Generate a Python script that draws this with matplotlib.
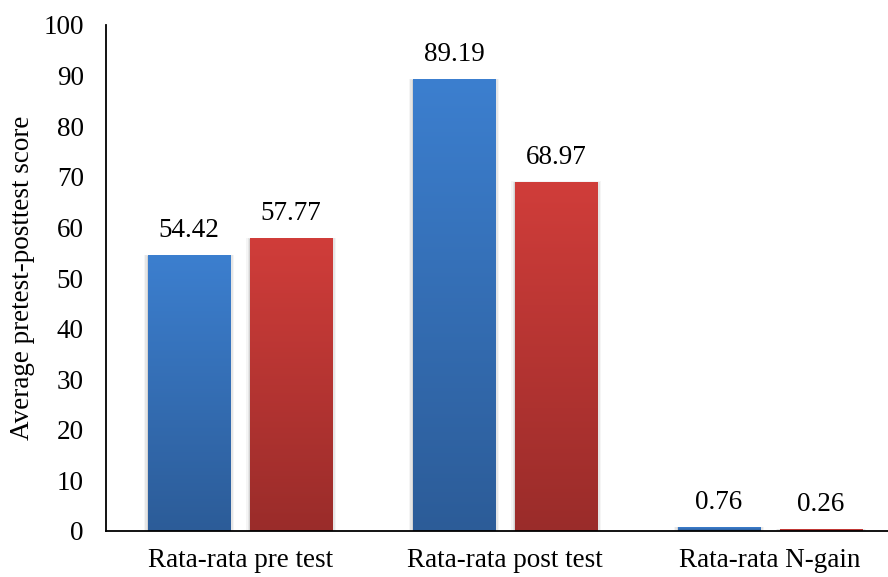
#!/usr/bin/env python3

import numpy as np
from matplotlib import pyplot as plt
from matplotlib.colors import LinearSegmentedColormap

categories = ['Rata-rata pre test', 'Rata-rata post test', 'Rata-rata N-gain']
series_a = [54.42, 89.19, 0.76]
series_b = [57.77, 68.97, 0.26]
y_ticks = [0, 10, 20, 30, 40, 50, 60, 70, 80, 90, 100]

plt.rcParams['font.family'] = ['Liberation Serif', 'DejaVu Serif']

BLUE = LinearSegmentedColormap.from_list('blue', ['#2c5c98', '#3c7fcf'])
RED = LinearSegmentedColormap.from_list('red', ['#9a2c2a', '#d03d3a'])


def gradient_bars(ax, bars, cmap):
    ramp = np.linspace(0, 1, 256).reshape(-1, 1)
    for bar in bars:
        x0, y0 = bar.get_x(), bar.get_y()
        w, h = bar.get_width(), bar.get_height()
        # faint shadow along the sides of each bar
        for k, a in [(0.014, 0.04), (0.008, 0.06), (0.003, 0.08)]:
            ax.add_patch(plt.Rectangle((x0 - k, y0), w + 2 * k, h + k * 8,
                                       color='black', alpha=a, lw=0, zorder=1))
        ax.imshow(ramp, cmap=cmap, origin='lower', aspect='auto',
                  extent=(x0, x0 + w, y0, y0 + h), zorder=2)
        bar.set_visible(False)


def main() -> None:
    fig = plt.figure(figsize=(8.88, 5.77), dpi=100)
    ax = fig.add_axes([106 / 888, 46 / 577, 1 - 106 / 888, 506 / 577])

    x = np.arange(len(categories))
    width = 0.313
    off = 0.1925

    bars_a = ax.bar(x - off, series_a, width)
    bars_b = ax.bar(x + off, series_b, width)
    gradient_bars(ax, bars_a, BLUE)
    gradient_bars(ax, bars_b, RED)

    for xs, vals in [(x - off, series_a), (x + off, series_b)]:
        for xi, v in zip(xs, vals):
            ax.annotate(f'{v:.2f}', (xi, v), xytext=(0, 9),
                        textcoords='offset points', ha='center', va='bottom',
                        fontsize=19.5)

    ax.set_xlim(-0.506, 2.445)
    ax.set_ylim(0, 100)
    ax.set_yticks(y_ticks)
    ax.set_xticks(x)
    ax.set_xticklabels(categories)
    ax.tick_params(axis='both', length=0, labelsize=19.5)
    ax.tick_params(axis='y', pad=16)
    ax.tick_params(axis='x', pad=12)
    ax.set_ylabel('Average pretest-posttest score', fontsize=19.5, labelpad=6)

    for side in ['top', 'right']:
        ax.spines[side].set_visible(False)
    for side in ['left', 'bottom']:
        ax.spines[side].set_linewidth(1.3)
        ax.spines[side].set_zorder(5)

    fig.savefig('out.png', dpi=100)


if __name__ == '__main__':
    main()
